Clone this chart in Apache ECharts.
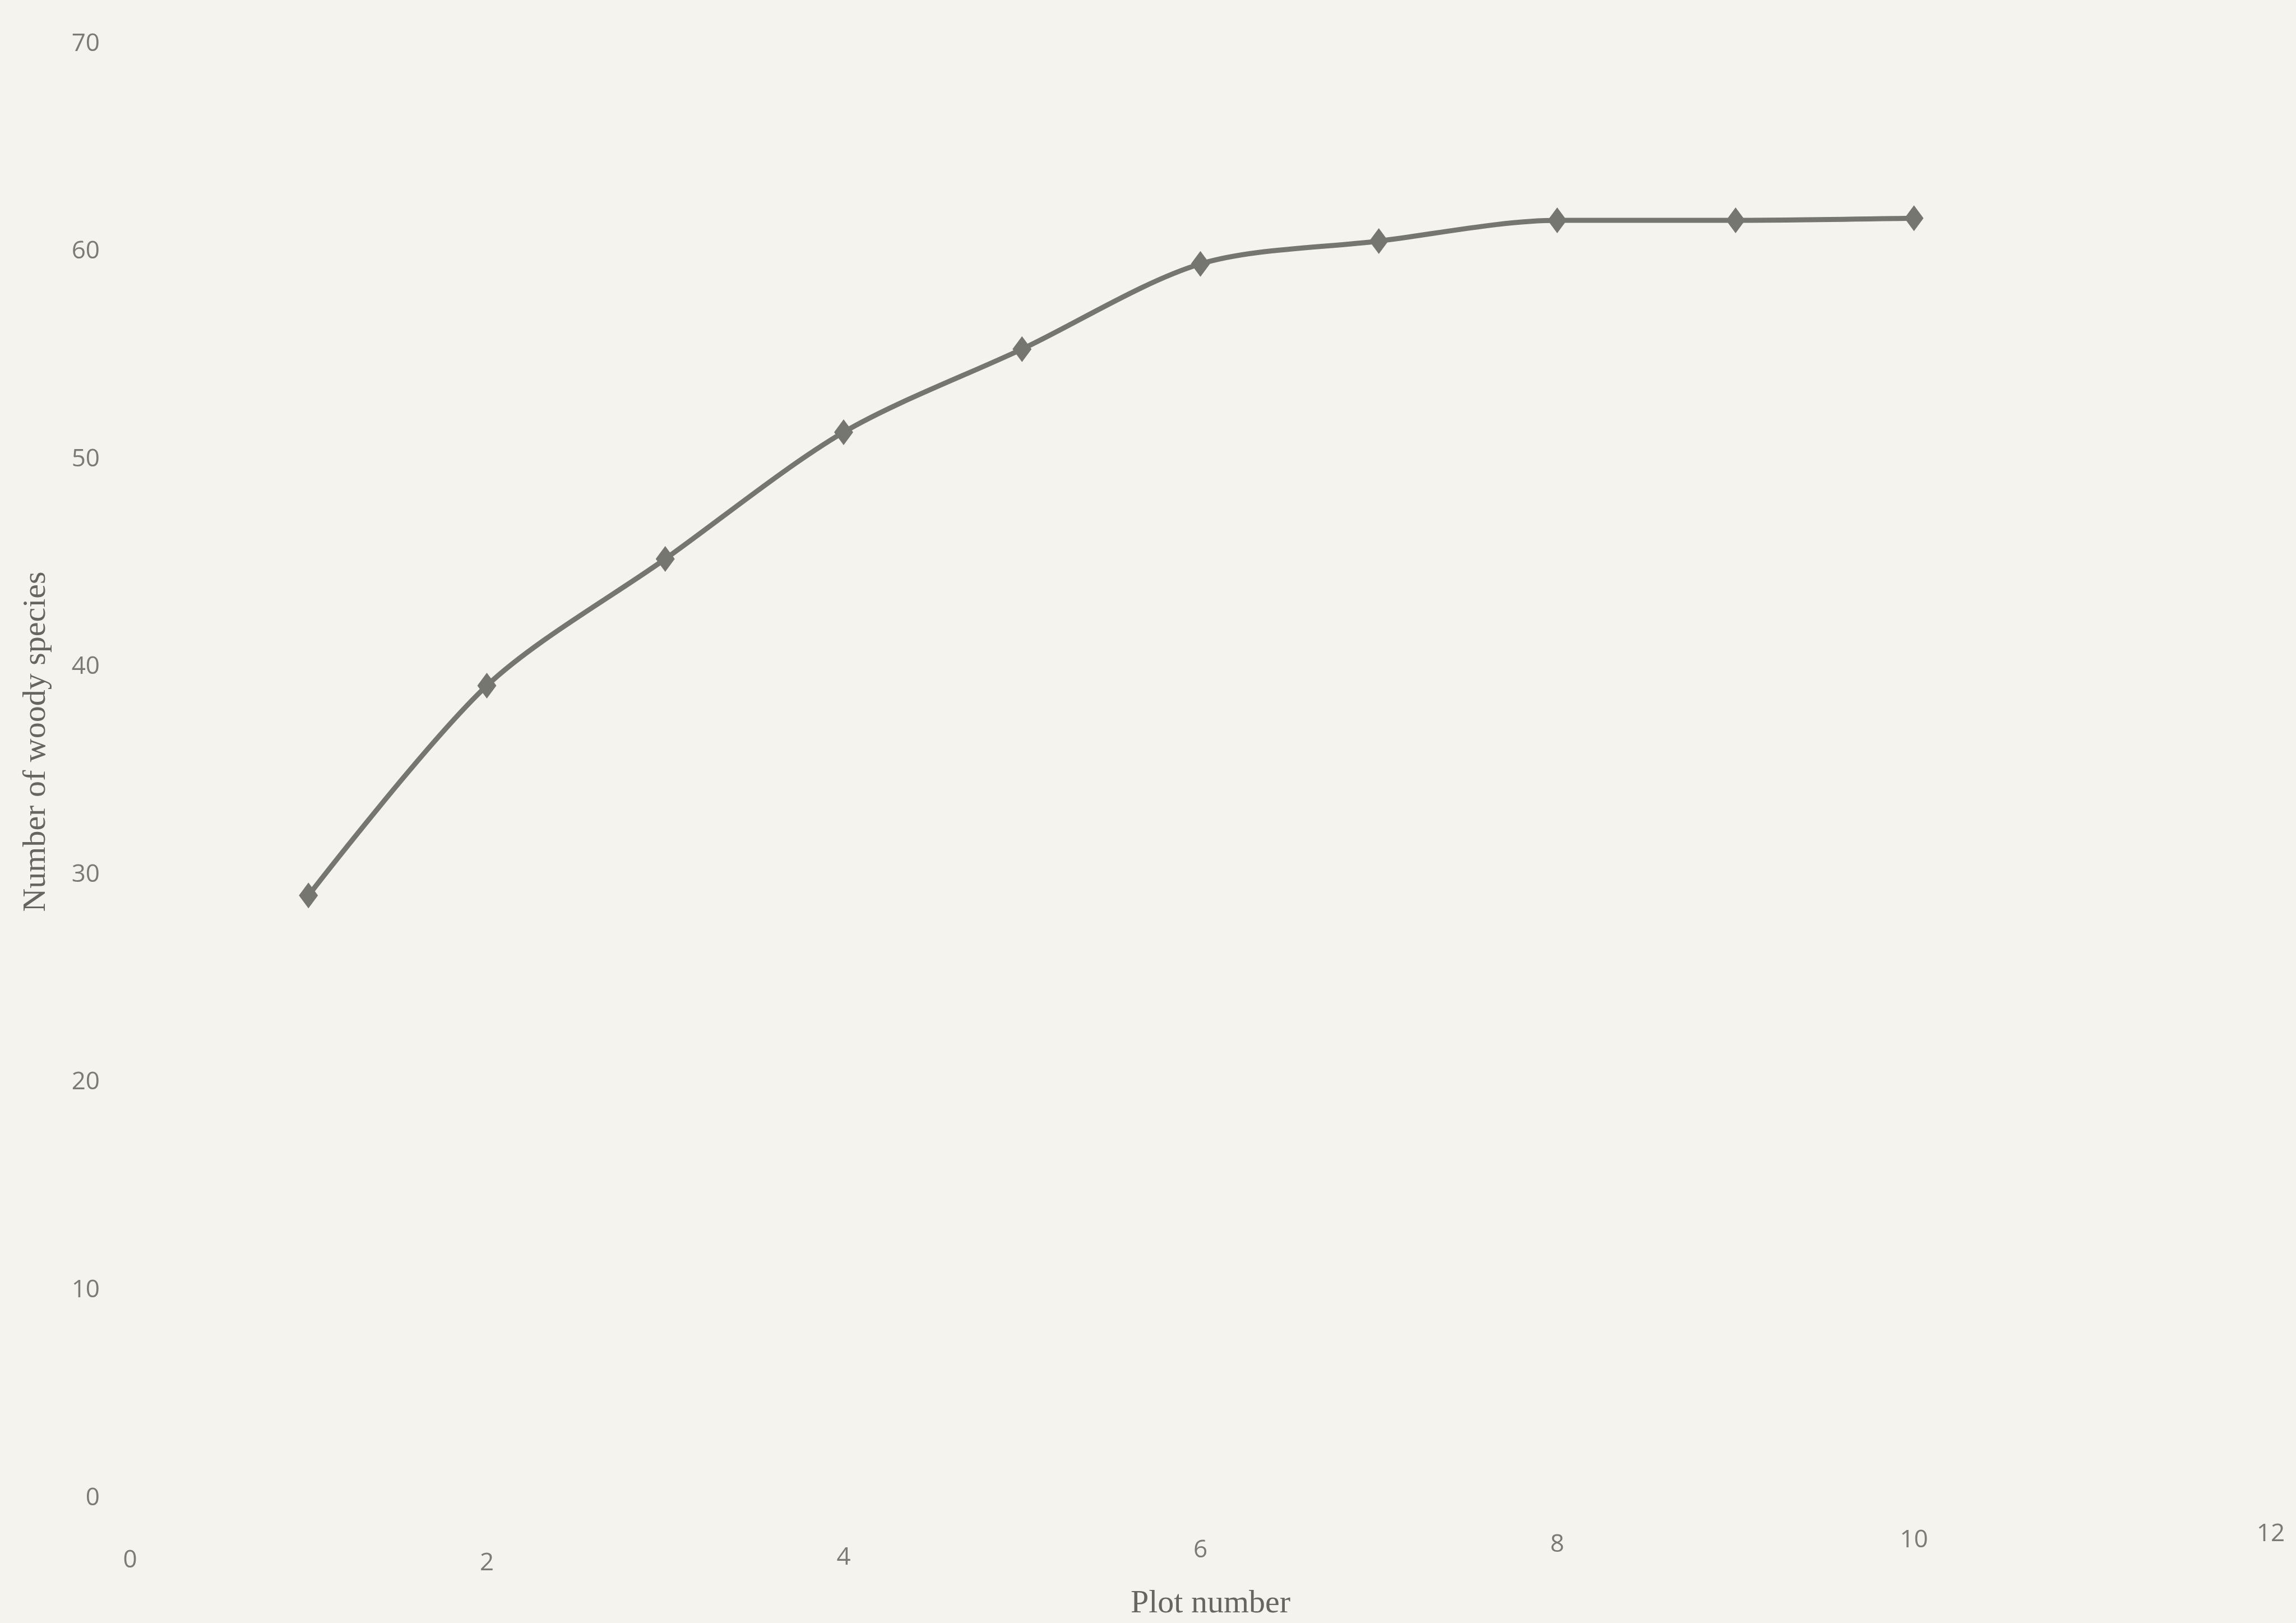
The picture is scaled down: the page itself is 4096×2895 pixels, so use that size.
<!DOCTYPE html>
<html>
<head>
<meta charset="utf-8">
<script src="https://cdn.jsdelivr.net/npm/echarts@6/dist/echarts.min.js"></script>
<style>
html,body{margin:0;padding:0;background:#f4f3ee;}
#c{width:4096px;height:2895px;}
</style>
</head>
<body>
<div id="c"></div>
<script>
var plotNumbers = [1, 2, 3, 4, 5, 6, 7, 8, 9, 10];
var woodySpecies = [29, 39.1, 45.2, 51.3, 55.3, 59.4, 60.5, 61.5, 61.5, 61.6];
var xTitle = 'Plot number';
var yTitle = 'Number of woody species';

var points = plotNumbers.map(function (x, i) { return [x, woodySpecies[i]]; });

var lbl = {fontFamily: 'Open Sans', fontSize: 44, color: '#7a7a76'};
function richLbl(top) { return Object.assign({padding: [top, 0, 0, 0]}, lbl); }

var chart = echarts.init(document.getElementById('c'), null, {renderer: 'canvas'});
chart.setOption({
  backgroundColor: '#f4f3ee',
  animation: false,
  grid: {left: 232, right: 45, top: 78, bottom: 210, containLabel: false},
  xAxis: {
    type: 'value', min: 0, max: 12, interval: 2,
    name: xTitle, nameLocation: 'middle', nameGap: 160,
    nameTextStyle: {fontFamily: 'Liberation Serif', fontSize: 58, color: '#66665f', padding: [0, 0, 0, 36]},
    axisLine: {show: false}, axisTick: {show: false}, splitLine: {show: false},
    axisLabel: {fontFamily: 'Open Sans', fontSize: 44, color: '#7a7a76', margin: 37,
      formatter: function (v) { return '{l' + v + '|' + v + '}'; },
      rich: {
        l0: richLbl(52), l2: richLbl(57), l4: richLbl(47), l6: richLbl(34),
        l8: richLbl(24), l10: richLbl(16), l12: richLbl(5)
      }
    }
  },
  yAxis: {
    type: 'value', min: 0, max: 70, interval: 10,
    name: yTitle, nameLocation: 'middle', nameGap: 138, nameRotate: 90,
    nameTextStyle: {fontFamily: 'Liberation Serif', fontSize: 58, color: '#66665f', padding: [0, 0, 0, 104]},
    axisLine: {show: false}, axisTick: {show: false}, splitLine: {show: false},
    axisLabel: {fontFamily: 'Open Sans', fontSize: 44, color: '#7a7a76', margin: 54}
  },
  series: [{
    type: 'line',
    data: points,
    smooth: 0.3,
    symbol: 'diamond',
    symbolSize: [34, 46],
    lineStyle: {color: '#767671', width: 9},
    itemStyle: {color: '#767671'}
  }]
});
</script>
</body>
</html>
